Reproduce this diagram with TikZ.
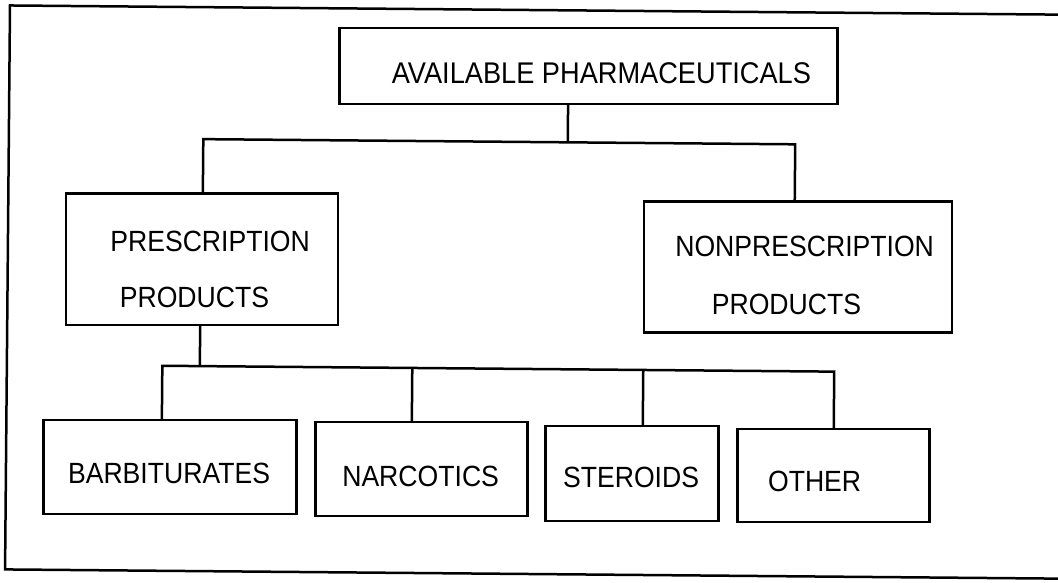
\documentclass[tikz,border=0pt]{standalone}
\usepackage{graphicx}
\usepackage{fontspec}
\setmainfont{Liberation Sans}
\newcommand\tallt[1]{\scalebox{1}[1.1]{#1}}
\begin{document}
\begin{tikzpicture}[x=1pt,y=-1pt,
  box/.style={draw=black, line width=2.5pt, rectangle, inner sep=0pt, outer sep=0pt, anchor=north west},
  lbl/.style={font=\fontsize{26.6}{30}\selectfont, inner sep=0pt, outer sep=0pt, anchor=base west, text=black},
  conn/.style={draw=black, line width=2.5pt}]
\useasboundingbox (0,0) rectangle (1058,583);
\begin{scope}[rotate around={-0.5:(529,291)}]
% outer frame (right side cut off)
\draw[conn] (1080,10) -- (7.5,10) -- (7.5,574) -- (1080,574);
% boxes
\node[box, minimum width=498pt, minimum height=76pt] (top) at (337,29.5) {};
\node[box, minimum width=272pt, minimum height=131.5pt] (pres) at (65,197.5) {};
\node[box, minimum width=308pt, minimum height=131pt] (nonp) at (643,200.6) {};
\node[box, minimum width=253pt, minimum height=94pt] (barb) at (44.6,424.2) {};
\node[box, minimum width=212pt, minimum height=94pt] (narc) at (316.6,424) {};
\node[box, minimum width=173pt, minimum height=95pt] (ster) at (546.7,426.1) {};
\node[box, minimum width=192pt, minimum height=93pt] (oth) at (738.7,427.3) {};
% labels
\node[lbl, font=\fontsize{27.2}{30}\selectfont] (ttop) at (390,84.4) {\tallt{AVAILABLE PHARMACEUTICALS}};
\node[lbl] (tpres1) at (110,255) {\tallt{PRESCRIPTION}};
\node[lbl] (tpres2) at (120,311) {\tallt{PRODUCTS}};
\node[lbl] (tnonp1) at (675,255.5) {\tallt{NONPRESCRIPTION}};
\node[lbl] (tnonp2) at (712,312.5) {\tallt{PRODUCTS}};
\node[lbl] (tbarb) at (69.7,487.2) {\tallt{BARBITURATES}};
\node[lbl] (tnarc) at (344,487.7) {\tallt{NARCOTICS}};
\node[lbl] (tster) at (564.8,487.1) {\tallt{STEROIDS}};
\node[lbl] (toth) at (769.8,489.4) {\tallt{OTHER}};
% bus coordinates
\coordinate (b1L) at (202,142);
\coordinate (b1M) at (566.5,142);
\coordinate (b1R) at (794,142);
\coordinate (b2A) at (163,369);
\coordinate (b2P) at (200.5,369);
\coordinate (b2B) at (413,369);
\coordinate (b2C) at (644,369);
\coordinate (b2D) at (835,369);
% connectors
\draw[conn] (top.south -| b1M) -- (b1M);
\draw[conn] (pres.north -| b1L) |- (b1R) -- (nonp.north -| b1R);
\draw[conn] (pres.south -| b2P) -- (b2P);
\draw[conn] (barb.north -| b2A) |- (b2D) -- (oth.north -| b2D);
\draw[conn] (b2B) -- (narc.north -| b2B);
\draw[conn] (b2C) -- (ster.north -| b2C);
\end{scope}
\end{tikzpicture}
\end{document}
